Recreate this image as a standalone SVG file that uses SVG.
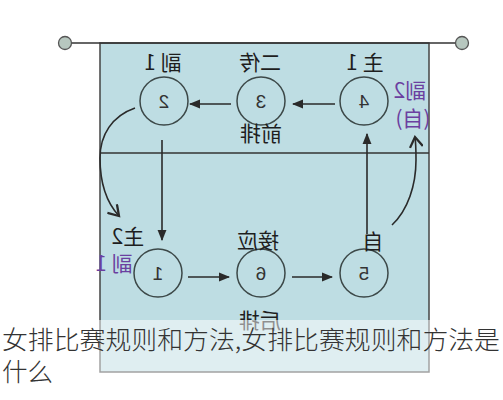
<svg xmlns="http://www.w3.org/2000/svg" width="503" height="400" viewBox="0 0 503 400">
<defs>
<style>
.line{stroke:#2a2a2a;stroke-width:1.6;fill:none}
.circ{fill:#bedde3;stroke:#3c4848;stroke-width:1.5}
.num{font-family:"Liberation Sans",sans-serif;font-size:19px;fill:#333;text-anchor:middle}
.hand{font-family:"Noto Sans CJK SC",sans-serif;font-size:21px;fill:#1e1e1e;text-anchor:middle}
.purple{fill:#6b3fa0}
.cap{font-family:"Noto Sans CJK SC",sans-serif;font-size:25.5px;fill:#333;font-weight:300}
</style>
<marker id="ah" viewBox="0 0 10 10" refX="9" refY="5" markerWidth="7" markerHeight="7" orient="auto">
<path d="M0,1 L10,5 L0,9 Z" fill="#2a2a2a"/>
</marker>
<marker id="chev" viewBox="0 0 10 10" refX="8" refY="5" markerWidth="9" markerHeight="9" orient="auto">
<path d="M1,0.5 L8,5 L1,9.5" fill="none" stroke="#2a2a2a" stroke-width="1.6"/>
</marker>
</defs>
<rect width="503" height="400" fill="#fff"/>
<g id="court">
<rect x="100" y="43" width="329" height="329" fill="#bedde3" stroke="#444" stroke-width="1.5"/>
<line x1="100" y1="153" x2="429" y2="153" stroke="#333" stroke-width="1.5"/>
</g>
<g id="net">
<line x1="65" y1="43" x2="462" y2="43" stroke="#333" stroke-width="1.5"/>
<circle cx="65" cy="43" r="6.5" fill="#b7c7bf" stroke="#555" stroke-width="1.3"/>
<circle cx="462" cy="43" r="6.5" fill="#b7c7bf" stroke="#555" stroke-width="1.3"/>
</g>
<g id="connectors">
<line class="line" x1="335" y1="104" x2="293" y2="104" marker-end="url(#ah)"/>
<line class="line" x1="231" y1="104" x2="190" y2="104" marker-end="url(#ah)"/>
<line class="line" x1="162" y1="140" x2="162" y2="240" marker-end="url(#ah)"/>
<line class="line" x1="367" y1="234" x2="367" y2="134" marker-end="url(#ah)"/>
<line class="line" x1="188" y1="277" x2="229" y2="277" marker-end="url(#ah)"/>
<line class="line" x1="292" y1="277" x2="332" y2="277" marker-end="url(#ah)"/>
<path class="line" d="M135,108 C112,116 100,135 100,158 C100,185 107,203 119,216" marker-end="url(#chev)"/>
<path class="line" d="M392,225 C408,210 416,185 416,160 C416,150 416,144 415,137" marker-end="url(#chev)"/>
</g>
<g id="p2"><circle class="circ" cx="164" cy="101" r="24"/><text class="num" transform="translate(164,108) scale(-1,1)">2</text></g>
<g id="p3"><circle class="circ" cx="261" cy="101" r="24"/><text class="num" transform="translate(261,108) scale(-1,1)">3</text></g>
<g id="p4"><circle class="circ" cx="364" cy="101" r="24"/><text class="num" transform="translate(364,108) scale(-1,1)">4</text></g>
<g id="p1"><circle class="circ" cx="158" cy="273" r="24"/><text class="num" transform="translate(158,280) scale(-1,1)">1</text></g>
<g id="p6"><circle class="circ" cx="261" cy="273" r="24"/><text class="num" transform="translate(261,280) scale(-1,1)">6</text></g>
<g id="p5"><circle class="circ" cx="364" cy="273" r="24"/><text class="num" transform="translate(364,280) scale(-1,1)">5</text></g>
<g id="labels">
<text class="hand" transform="translate(163,70) scale(-1,1)">副 1</text>
<text class="hand" transform="translate(260,70) scale(-1,1)">二传</text>
<text class="hand" transform="translate(365,70) scale(-1,1)">主 1</text>
<text class="hand purple" transform="translate(410,98) scale(-1,1)">副2</text>
<text class="hand purple" font-size="18" transform="translate(413,126) scale(-1,1)">(自)</text>
<text class="hand" font-size="19" transform="translate(261,141) scale(-1,1)">前排</text>
<text class="hand" font-size="19" transform="translate(128,244) scale(-1,1)">主2</text>
<text class="hand purple" font-size="19" transform="translate(114,271) scale(-1,1)">副 1</text>
<text class="hand" font-size="20" transform="translate(258,248) scale(-1,1)">接应</text>
<text class="hand" font-size="19" transform="translate(373,249) scale(-1,1)">自</text>
<text class="hand" font-size="19" transform="translate(260,328) scale(-1,1)">后排</text>
</g>
<rect x="0" y="320" width="503" height="80" fill="#fff" opacity="0.5"/>
<g id="caption">
<text class="cap" x="2" y="349" textLength="498" lengthAdjust="spacingAndGlyphs">女排比赛规则和方法,女排比赛规则和方法是</text>
<text class="cap" x="2" y="381">什么</text>
</g>
</svg>
